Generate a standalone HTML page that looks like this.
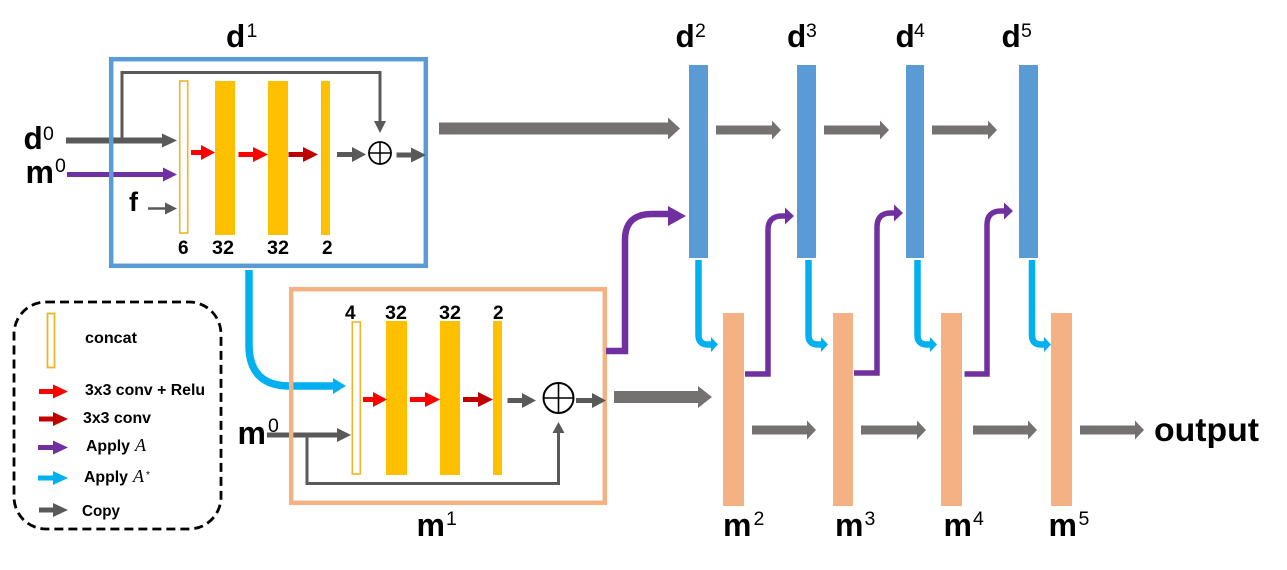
<!DOCTYPE html>
<html><head><meta charset="utf-8"><style>
html,body{margin:0;padding:0;background:#fff}
svg{display:block}
text{font-family:"Liberation Sans",sans-serif;fill:#000}
.b{font-size:31.500px;font-weight:bold}
.m{font-size:32px;font-weight:bold}
.s{font-size:19.500px}
.n{font-size:19px;font-weight:bold}
.l{font-size:16px;font-weight:bold}
.i{font-family:"Liberation Serif",serif;font-style:italic;font-weight:normal;font-size:18px}
</style></head><body>
<svg width="1287" height="570" viewBox="0 0 1287 570" xmlns="http://www.w3.org/2000/svg">
<rect width="1287" height="570" fill="#fff"/>

<!-- d1 inputs -->
<polygon fill="#595959" points="66,137.500 162,137.500 162,133.500 177,140.500 162,147.500 162,143.500 66,143.500"/>
<polygon fill="#7030a0" points="67,172 163,172 163,167.500 177,174.500 163,181.500 163,177 67,177"/>
<polygon fill="#595959" points="148,207.300 165,207.300 165,202.500 177,208.500 165,214.500 165,209.700 148,209.700"/>
<path d="M122 140V72.500H380V122" fill="none" stroke="#595959" stroke-width="3"/>
<polygon fill="#595959" points="374,121 386,121 380,133"/>

<!-- d1 box -->
<rect x="111.200" y="59.200" width="314.600" height="206.600" fill="none" stroke="#5b9bd5" stroke-width="4.500"/>

<rect x="179.700" y="81" width="8" height="152" fill="#fff" stroke="#f0b429" stroke-width="1.600"/>
<rect x="215" y="81" width="20" height="154" fill="#ffc000"/>
<rect x="268" y="81" width="20" height="154" fill="#ffc000"/>
<rect x="321" y="81" width="9" height="154" fill="#ffc000"/>

<polygon fill="#ff0000" points="191,150 201,150 201,145 215,152.500 201,160 201,155 191,155"/>
<polygon fill="#ff0000" points="238.500,152 253,152 253,147 268,154.500 253,162 253,157 238.500,157"/>
<polygon fill="#c00000" points="288.500,152 303,152 303,147 318,154.500 303,162 303,157 288.500,157"/>
<polygon fill="#595959" points="337,152 352,152 352,147 366,154.500 352,162 352,157 337,157"/>
<polygon fill="#595959" points="396.500,152.500 411,152.500 411,147.500 426,155 411,162.500 411,157.500 396.500,157.500"/>
<circle cx="380" cy="153" r="11" fill="#fff" stroke="#000" stroke-width="1.800"/>
<path d="M369 153H391M380 142V164" stroke="#000" stroke-width="1.500"/>

<text class="n" x="178" y="254">6</text>
<text class="n" x="212" y="254" textLength="22" lengthAdjust="spacingAndGlyphs">32</text>
<text class="n" x="267" y="254" textLength="22" lengthAdjust="spacingAndGlyphs">32</text>
<text class="n" x="322" y="254">2</text>

<!-- labels top-left -->
<text class="b" x="226" y="47">d</text><text class="s" x="246.500" y="37">1</text>
<text class="b" x="23.500" y="149">d</text><text class="s" x="43" y="140">0</text>
<text class="m" x="25.500" y="183">m</text><text class="s" x="55" y="172">0</text>
<text class="b" x="129" y="211" style="font-size:27px">f</text>

<!-- main d to d2 arrow -->
<polygon fill="#767171" points="439,122.500 668,122.500 668,117.500 680,128.500 668,139.500 668,134.500 439,134.500"/>

<!-- cyan into m1 -->
<path d="M249 270V345Q249 386 290 386H335" fill="none" stroke="#00b0f0" stroke-width="7.500"/>
<polygon fill="#00b0f0" points="333,378 346,386 333,394"/>

<!-- m0 input -->
<polygon fill="#595959" points="267,432.500 337,432.500 337,428 351,435 337,442 337,437.500 267,437.500"/>
<path d="M307 435V483.500H558.500V432" fill="none" stroke="#595959" stroke-width="3"/>
<polygon fill="#595959" points="552.500,433 564.500,433 558.500,422"/>

<!-- m1 box -->
<rect x="291.200" y="289.200" width="313.600" height="213.600" fill="none" stroke="#f4b183" stroke-width="4.500"/>

<rect x="352.300" y="322" width="8" height="152" fill="#fff" stroke="#f0b429" stroke-width="1.600"/>
<rect x="386" y="321" width="21" height="154" fill="#ffc000"/>
<rect x="440" y="321" width="20" height="154" fill="#ffc000"/>
<rect x="493" y="321" width="9" height="154" fill="#ffc000"/>

<polygon fill="#ff0000" points="363,397 373,397 373,392 387,399.500 373,407 373,402 363,402"/>
<polygon fill="#ff0000" points="410,397 425,397 425,392 440,399.500 425,407 425,402 410,402"/>
<polygon fill="#c00000" points="463,397 478,397 478,392 493,399.500 478,407 478,402 463,402"/>
<polygon fill="#595959" points="507.500,398 522,398 522,393 536,400.500 522,408 522,403 507.500,403"/>
<polygon fill="#595959" points="576,398 592,398 592,393 606,400.500 592,408 592,403 576,403"/>
<circle cx="558.500" cy="398" r="15" fill="#fff" stroke="#000" stroke-width="2"/>
<path d="M543.500 398H573.500M558.500 383V413" stroke="#000" stroke-width="1.600"/>

<text class="n" x="345" y="319">4</text>
<text class="n" x="385" y="319" textLength="22" lengthAdjust="spacingAndGlyphs">32</text>
<text class="n" x="439" y="319" textLength="22" lengthAdjust="spacingAndGlyphs">32</text>
<text class="n" x="493" y="319">2</text>

<text class="m" x="237.500" y="444">m</text><text class="s" x="268" y="432">0</text>
<text class="m" x="416.500" y="536">m</text><text class="s" x="446" y="525">1</text>

<!-- m1 to m2 -->
<polygon fill="#767171" points="614,391 698,391 698,386 712,397 698,408 698,403 614,403"/>

<!-- blue bars -->
<rect x="689" y="65" width="19" height="193" fill="#5b9bd5"/>
<rect x="797" y="65" width="19" height="193" fill="#5b9bd5"/>
<rect x="906" y="65" width="18" height="193" fill="#5b9bd5"/>
<rect x="1019" y="65" width="19" height="193" fill="#5b9bd5"/>

<!-- orange bars -->
<rect x="723" y="313" width="21" height="193" fill="#f4b183"/>
<rect x="833" y="313" width="20" height="193" fill="#f4b183"/>
<rect x="941" y="313" width="21" height="193" fill="#f4b183"/>
<rect x="1051" y="313" width="21" height="193" fill="#f4b183"/>

<!-- grey arrows top -->
<polygon fill="#767171" points="716,125.500 772,125.500 772,120.500 781,130 772,139.500 772,134.500 716,134.500"/>
<polygon fill="#767171" points="824,125.500 880,125.500 880,120.500 889,130 880,139.500 880,134.500 824,134.500"/>
<polygon fill="#767171" points="932,125.500 988,125.500 988,120.500 997,130 988,139.500 988,134.500 932,134.500"/>

<!-- grey arrows bottom -->
<polygon fill="#767171" points="752,425.500 807,425.500 807,420.500 816,430 807,439.500 807,434.500 752,434.500"/>
<polygon fill="#767171" points="861,425.500 917,425.500 917,420.500 926,430 917,439.500 917,434.500 861,434.500"/>
<polygon fill="#767171" points="973,425.500 1028,425.500 1028,420.500 1037,430 1028,439.500 1028,434.500 973,434.500"/>
<polygon fill="#767171" points="1080,425.500 1135,425.500 1135,420.500 1144,430 1135,439.500 1135,434.500 1080,434.500"/>

<!-- purple -->
<path d="M606 351H625V240Q625 214 652 214H670" fill="none" stroke="#7030a0" stroke-width="6.500"/>
<polygon fill="#7030a0" points="668,206 686,216 668,226"/>
<path d="M745 374H768V230Q768 216 782 216H786" fill="none" stroke="#7030a0" stroke-width="5.500"/>
<polygon fill="#7030a0" points="785,207.500 794,216 785,224.500"/>
<path d="M854 373H877V227Q877 213 891 213H895" fill="none" stroke="#7030a0" stroke-width="5.500"/>
<polygon fill="#7030a0" points="894,204.500 903,213 894,221.500"/>
<path d="M964.500 374H987V225Q987 211 1001 211H1005" fill="none" stroke="#7030a0" stroke-width="5.500"/>
<polygon fill="#7030a0" points="1004,202.500 1013,211 1004,219.500"/>

<!-- cyan -->
<path d="M698.500 260V335Q698.500 344.500 708 344.500H713" fill="none" stroke="#00b0f0" stroke-width="6.500"/>
<polygon fill="#00b0f0" points="711,337 718,344.500 711,352"/>
<path d="M808.500 260V335Q808.500 344.500 818 344.500H823" fill="none" stroke="#00b0f0" stroke-width="6.500"/>
<polygon fill="#00b0f0" points="821,337 828,344.500 821,352"/>
<path d="M917.500 260V335Q917.500 344.500 927 344.500H932" fill="none" stroke="#00b0f0" stroke-width="6.500"/>
<polygon fill="#00b0f0" points="930,337 937,344.500 930,352"/>
<path d="M1032 260V335Q1032 344.500 1041 344.500H1046" fill="none" stroke="#00b0f0" stroke-width="6.500"/>
<polygon fill="#00b0f0" points="1044,337 1051,344.500 1044,352"/>

<!-- d / m labels -->
<text class="b" x="675.500" y="47">d</text><text class="s" x="695" y="37">2</text>
<text class="b" x="787" y="47">d</text><text class="s" x="806" y="37">3</text>
<text class="b" x="895.500" y="47">d</text><text class="s" x="914" y="37">4</text>
<text class="b" x="1001.500" y="47">d</text><text class="s" x="1021" y="37">5</text>
<text class="m" x="723" y="536">m</text><text class="s" x="753.500" y="525">2</text>
<text class="m" x="835" y="536">m</text><text class="s" x="864.500" y="525">3</text>
<text class="m" x="943.500" y="536">m</text><text class="s" x="973" y="525">4</text>
<text class="m" x="1048.500" y="536">m</text><text class="s" x="1078.500" y="525">5</text>
<text class="b" x="1154" y="441" style="font-size:33px" textLength="105" lengthAdjust="spacingAndGlyphs">output</text>

<!-- legend -->
<rect x="14" y="302" width="207" height="227" rx="32" ry="32" fill="#fff" stroke="#000" stroke-width="2.800" stroke-dasharray="9 5"/>
<rect x="47.500" y="313.500" width="7" height="54" fill="#fff" stroke="#f0b429" stroke-width="1.800"/>
<text class="l" x="85" y="343" textLength="52" lengthAdjust="spacingAndGlyphs">concat</text>
<polygon fill="#ff0000" points="39,389 53,389 53,384.500 68,391.500 53,398.500 53,394 39,394"/>
<text class="l" x="85" y="395" textLength="120" lengthAdjust="spacingAndGlyphs">3x3 conv + Relu</text>
<polygon fill="#c00000" points="39,416.500 53,416.500 53,412 68,419 53,426 53,421.500 39,421.500"/>
<text class="l" x="83" y="423" textLength="68" lengthAdjust="spacingAndGlyphs">3x3 conv</text>
<polygon fill="#7030a0" points="38,445 53,445 53,440.500 68,447.500 53,454.500 53,450 38,450"/>
<text class="l" x="86" y="451" textLength="44" lengthAdjust="spacingAndGlyphs">Apply</text><text class="i" x="135" y="451">A</text>
<polygon fill="#00b0f0" points="38,475.500 53,475.500 53,471 68,478 53,485 53,480.500 38,480.500"/>
<text class="l" x="84" y="482" textLength="44" lengthAdjust="spacingAndGlyphs">Apply</text><text class="i" x="133" y="482">A</text><text x="146" y="478" style="font-size:10px">*</text>
<polygon fill="#595959" points="39,507.500 53,507.500 53,503 68,510 53,517 53,512.500 39,512.500"/>
<text class="l" x="82" y="516" textLength="38" lengthAdjust="spacingAndGlyphs">Copy</text>
</svg>
</body></html>
